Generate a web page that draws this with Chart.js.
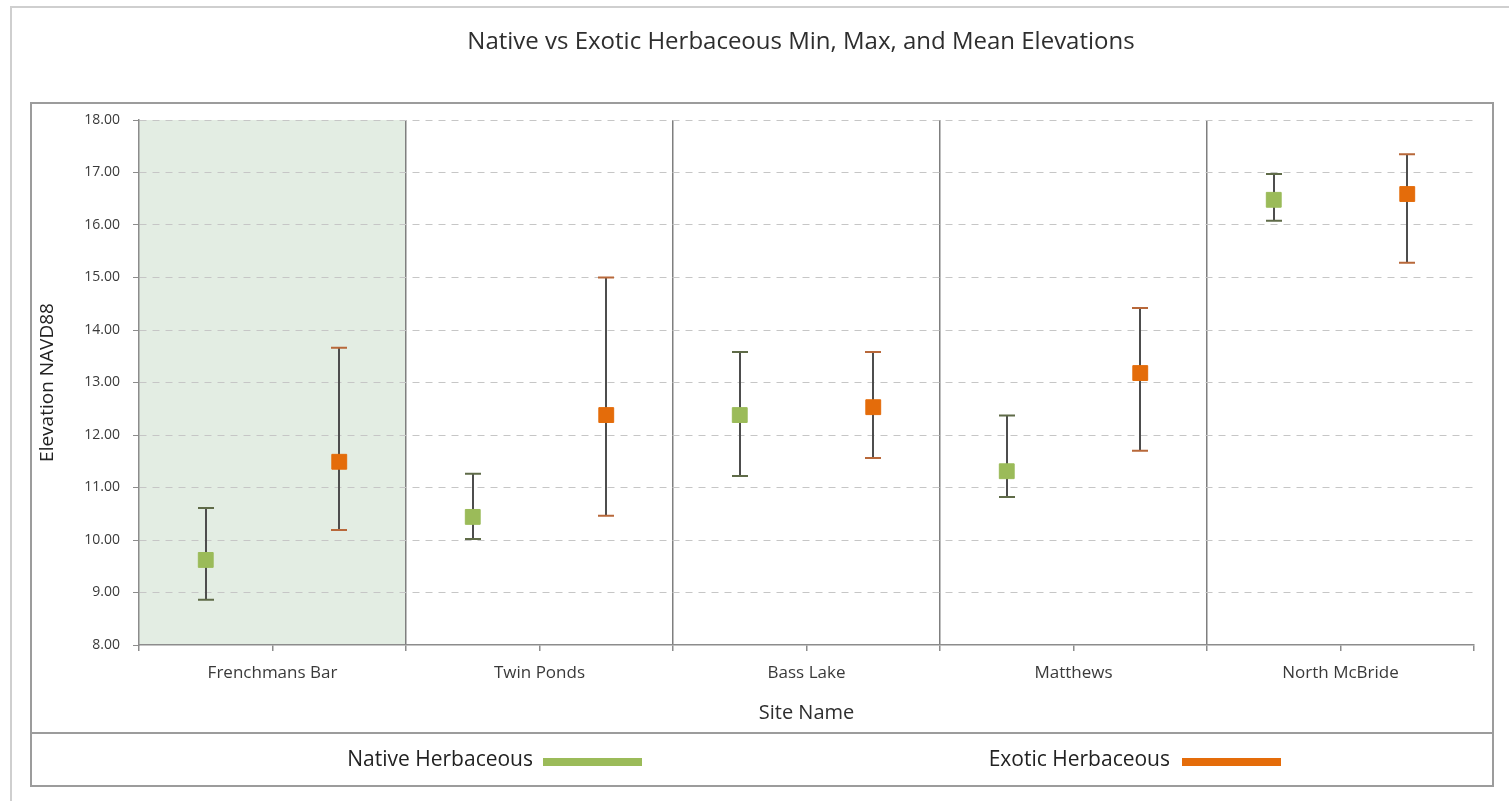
<!DOCTYPE html>
<html>
<head>
<meta charset="utf-8">
<title>Native vs Exotic Herbaceous Elevations</title>
<script src="https://cdn.jsdelivr.net/npm/chart.js@4/dist/chart.umd.min.js"></script>
<style>
  html, body { margin: 0; padding: 0; background: #ffffff; }
  #wrap { position: relative; width: 1509px; height: 801px; }
</style>
</head>
<body>
<div id="wrap"><canvas id="chart" width="1509" height="801"></canvas></div>
<script>
// Sites along the x axis
const sites = ['Frenchmans Bar', 'Twin Ponds', 'Bass Lake', 'Matthews', 'North McBride'];

// Native herbaceous elevations (NAVD88)
const nativeMin  = [8.86, 10.02, 11.22, 10.82, 16.08];
const nativeMean = [9.62, 10.44, 12.38, 11.31, 16.48];
const nativeMax  = [10.61, 11.26, 13.58, 12.37, 16.97];

// Exotic herbaceous elevations (NAVD88)
const exoticMin  = [10.19, 10.46, 11.56, 11.70, 15.28];
const exoticMean = [11.49, 12.38, 12.53, 13.18, 16.59];
const exoticMax  = [13.66, 15.00, 13.58, 14.42, 17.35];

// Elevation axis ticks
const yTicks = [8, 9, 10, 11, 12, 13, 14, 15, 16, 17, 18];

const FONT = '"Open Sans", "Noto Sans", sans-serif';
const NATIVE = '#9bbb59';
const EXOTIC = '#e46c0a';
const WHISKER = '#4d4d4d';
const TEXT = '#3a3a3a';

// Each site occupies one unit on the x scale; series sit at quarter offsets
const nativePts = nativeMean.map((v, i) => ({ x: i + 0.25, y: v }));
const exoticPts = exoticMean.map((v, i) => ({ x: i + 0.75, y: v }));

const decor = {
  id: 'decor',
  beforeDraw(chart) {
    const { ctx, scales: { x, y } } = chart;
    ctx.save();
    // outer frame
    ctx.strokeStyle = '#cfcfcf';
    ctx.lineWidth = 2;
    ctx.beginPath();
    ctx.moveTo(11, 801); ctx.lineTo(11, 7); ctx.lineTo(1509, 7);
    ctx.stroke();
    // plot and legend boxes
    ctx.strokeStyle = '#9c9c9c';
    ctx.lineWidth = 2;
    ctx.strokeRect(31, 103, 1462, 630);
    ctx.strokeRect(31, 733, 1462, 53);
    // highlighted first site
    const x0 = x.getPixelForValue(0), x1 = x.getPixelForValue(1);
    ctx.fillStyle = '#e3ede3';
    ctx.fillRect(x0, y.getPixelForValue(18), x1 - x0, y.getPixelForValue(8) - y.getPixelForValue(18));
    // title
    ctx.fillStyle = '#2e2e2e';
    ctx.font = '24px ' + FONT;
    ctx.textAlign = 'center';
    ctx.textBaseline = 'middle';
    ctx.fillText('Native vs Exotic Herbaceous Min, Max, and Mean Elevations', 801, 42);
    ctx.restore();
  },
  beforeDatasetsDraw(chart) {
    // min-max whiskers behind the mean markers
    const { ctx, scales: { x, y } } = chart;
    const groups = [
      { mins: nativeMin, maxs: nativeMax, off: 0.25, cap: '#5f6b48' },
      { mins: exoticMin, maxs: exoticMax, off: 0.75, cap: '#b8683a' }
    ];
    ctx.save();
    ctx.lineWidth = 2;
    groups.forEach(g => {
      g.mins.forEach((lo, i) => {
        const px = Math.round(x.getPixelForValue(i + g.off));
        const yLo = y.getPixelForValue(lo), yHi = y.getPixelForValue(g.maxs[i]);
        ctx.strokeStyle = WHISKER;
        ctx.beginPath();
        ctx.moveTo(px, yLo); ctx.lineTo(px, yHi);
        ctx.stroke();
        ctx.strokeStyle = g.cap;
        ctx.beginPath();
        ctx.moveTo(px - 8, yLo); ctx.lineTo(px + 8, yLo);
        ctx.moveTo(px - 8, yHi); ctx.lineTo(px + 8, yHi);
        ctx.stroke();
      });
    });
    ctx.restore();
  },
  afterDraw(chart) {
    // legend row
    const { ctx } = chart;
    ctx.save();
    ctx.font = '21px ' + FONT;
    ctx.fillStyle = '#222222';
    ctx.textBaseline = 'middle';
    ctx.textAlign = 'right';
    chart.data.datasets.forEach((ds, i) => {
      const tx = i === 0 ? 533 : 1170;
      const sx = i === 0 ? 543 : 1182;
      ctx.fillText(ds.label, tx, 760);
      ctx.fillStyle = ds.backgroundColor;
      ctx.fillRect(sx, 758, 99, 8);
      ctx.fillStyle = '#222222';
    });
    ctx.restore();
  }
};

new Chart(document.getElementById('chart'), {
  type: 'scatter',
  data: {
    datasets: [
      { label: 'Native Herbaceous', data: nativePts, backgroundColor: NATIVE, borderColor: NATIVE,
        pointStyle: 'rect', pointRadius: 10.5, pointHoverRadius: 10.5 },
      { label: 'Exotic Herbaceous', data: exoticPts, backgroundColor: EXOTIC, borderColor: EXOTIC,
        pointStyle: 'rect', pointRadius: 10.5, pointHoverRadius: 10.5 }
    ]
  },
  options: {
    responsive: false,
    animation: false,
    layout: { padding: { left: 32, right: 35, top: 120, bottom: 68 } },
    plugins: {
      legend: { display: false },
      title: { display: false },
      tooltip: { enabled: false }
    },
    scales: {
      x: {
        type: 'linear',
        min: 0,
        max: 5,
        afterFit(scale) { scale.height = 88; },
        afterBuildTicks(scale) {
          const t = [];
          for (let i = 0; i <= sites.length * 2; i++) t.push({ value: i / 2 });
          scale.ticks = t;
        },
        ticks: {
          autoSkip: false,
          maxRotation: 0,
          padding: 12,
          color: TEXT,
          font: { family: FONT, size: 17 },
          callback(v) {
            const i = Math.floor(v);
            return (v - i === 0.5) ? sites[i] : '';
          }
        },
        grid: {
          color(ctx) {
            const v = ctx.tick ? ctx.tick.value : 0;
            return (Number.isInteger(v) && v > 0 && v < 5) ? '#7f7f7f' : 'rgba(0,0,0,0)';
          },
          lineWidth: 1.5,
          tickColor: '#8c8c8c',
          tickLength: 6,
          drawTicks: true
        },
        border: { display: true, color: '#8c8c8c', width: 1.5 },
        title: {
          display: true,
          text: 'Site Name',
          color: '#2e2e2e',
          font: { family: FONT, size: 20 },
          padding: { top: 0, bottom: 8 }
        }
      },
      y: {
        min: 8,
        max: 18,
        afterFit(scale) { scale.width = 107; },
        afterBuildTicks(scale) { scale.ticks = yTicks.map(v => ({ value: v })); },
        ticks: {
          padding: 13,
          color: TEXT,
          font: { family: FONT, size: 14 },
          callback(v) { return Number(v).toFixed(2); }
        },
        grid: {
          color(ctx) { return ctx.tick && ctx.tick.value === 8 ? 'rgba(0,0,0,0)' : '#c6c6c6'; },
          lineWidth: 1,
          tickColor: '#8c8c8c',
          tickLength: 6,
          tickBorderDash: []
        },
        border: { display: true, color: '#8c8c8c', width: 1.5, dash: [7, 6] },
        title: {
          display: true,
          text: 'Elevation NAVD88',
          color: '#222222',
          font: { family: FONT, size: 19 },
          padding: { top: 4, bottom: 0 }
        }
      }
    }
  },
  plugins: [decor]
});
</script>
</body>
</html>
